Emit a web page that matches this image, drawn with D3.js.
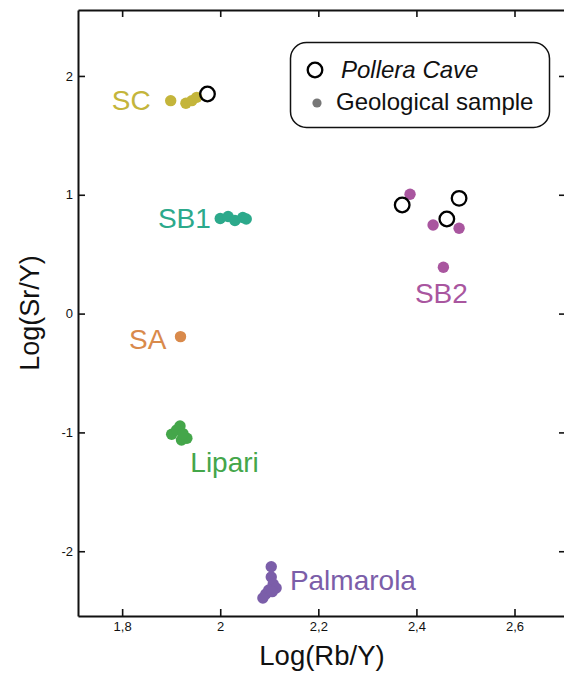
<!DOCTYPE html>
<html>
<head>
<meta charset="utf-8">
<script src="https://cdn.jsdelivr.net/npm/d3@7"></script>
<style>
  body { margin: 0; background: #fff; }
  svg { display: block; font-family: "Liberation Sans", Arial, Helvetica, sans-serif; }
</style>
</head>
<body>
<svg id="chart" width="564" height="673"></svg>
<script>
// geological samples, Log(Rb/Y) and Log(Sr/Y)
const scRb = [1.899, 1.930, 1.942, 1.952]
const scSr = [1.792, 1.770, 1.792, 1.820]
const sb1Rb = [2.000, 2.016, 2.030, 2.046, 2.053]
const sb1Sr = [0.800, 0.817, 0.784, 0.809, 0.796]
const saRb = [1.919]
const saSr = [-0.194]
const lipariRb = [1.901, 1.918, 1.932, 1.921, 1.911, 1.924]
const lipariSr = [-1.016, -0.946, -1.049, -1.064, -0.980, -1.010]
const palmarolaRb = [2.104, 2.104, 2.108, 2.114, 2.099, 2.093, 2.087, 2.106]
const palmarolaSr = [-2.130, -2.217, -2.276, -2.309, -2.326, -2.360, -2.394, -2.340]
const sb2Rb = [2.387, 2.434, 2.487, 2.455]
const sb2Sr = [1.004, 0.746, 0.718, 0.390]

// Pollera Cave artefacts
const caveRb = [1.974, 2.371, 2.487, 2.462]
const caveSr = [1.848, 0.914, 0.970, 0.796]

const groups = ["SC", "SB1", "SA", "Lipari", "Palmarola", "SB2"]
// where each source label sits, in data units
const labelRb = [1.779, 1.873, 1.814, 1.939, 2.142, 2.397]
const labelSr = [1.714, 0.720, -0.298, -1.329, -2.330, 0.087]

const xTicks = [1.8, 2, 2.2, 2.4, 2.6]
const yTicks = [-2, -1, 0, 1, 2]

const colors = ["#c4b53b", "#2ca98b", "#d98a4b", "#44a64a", "#7b5ea9", "#a9569f"]

const samples = []
;[[scRb, scSr], [sb1Rb, sb1Sr], [saRb, saSr], [lipariRb, lipariSr],
  [palmarolaRb, palmarolaSr], [sb2Rb, sb2Sr]].forEach(function (g, gi) {
  g[0].forEach(function (v, i) {
    samples.push({ group: groups[gi], rb: v, sr: g[1][i] })
  })
})
const cave = caveRb.map((v, i) => ({ rb: v, sr: caveSr[i] }))

const mLeft = 78, mRight = 566, mTop = 10, mBottom = 616

const x = d3.scaleLinear().domain([1.71, 2.705]).range([mLeft, mRight])
const y = d3.scaleLinear().domain([-2.545, 2.555]).range([mBottom, mTop])
const color = d3.scaleOrdinal().domain(groups).range(colors)
const fmt = d => String(d).replace(".", ",")

const svg = d3.select("#chart")

function styleAxis(g) {
  g.select(".domain").attr("stroke", "#111").attr("stroke-width", 2)
  g.selectAll(".tick line").attr("stroke", "#111").attr("stroke-width", 1.6)
  g.selectAll(".tick text").attr("fill", "#111").style("font-size", "13px")
}

svg.append("g")
  .attr("transform", `translate(0,${mBottom})`)
  .call(d3.axisBottom(x).tickValues(xTicks).tickFormat(fmt).tickSize(-7).tickPadding(6).tickSizeOuter(0))
  .call(styleAxis)

svg.append("g")
  .attr("transform", `translate(0,${mTop})`)
  .call(d3.axisTop(x).tickValues(xTicks).tickFormat("").tickSize(-7).tickSizeOuter(0))
  .call(styleAxis)

svg.append("g")
  .attr("transform", `translate(${mLeft},0)`)
  .call(d3.axisLeft(y).tickValues(yTicks).tickFormat(fmt).tickSize(-7).tickPadding(5).tickSizeOuter(0))
  .call(styleAxis)

svg.append("g")
  .attr("transform", `translate(${mRight},0)`)
  .call(d3.axisRight(y).tickValues(yTicks).tickFormat("").tickSize(-7).tickSizeOuter(0))
  .call(styleAxis)

// geological samples
svg.append("g")
  .selectAll("circle")
  .data(samples)
  .enter()
  .append("circle")
  .attr("cx", d => x(d.rb))
  .attr("cy", d => y(d.sr))
  .attr("r", 5.7)
  .attr("fill", d => color(d.group))

// cave artefacts
svg.append("g")
  .selectAll("circle")
  .data(cave)
  .enter()
  .append("circle")
  .attr("cx", d => x(d.rb))
  .attr("cy", d => y(d.sr))
  .attr("r", 7.3)
  .attr("fill", "none")
  .attr("stroke", "#000")
  .attr("stroke-width", 2.3)

// source labels
svg.append("g")
  .selectAll("text")
  .data(groups)
  .enter()
  .append("text")
  .attr("x", (d, i) => x(labelRb[i]))
  .attr("y", (d, i) => y(labelSr[i]))
  .attr("fill", d => color(d))
  .style("font-size", "28px")
  .text(d => d)

// axis titles
svg.append("text")
  .attr("x", (mLeft + mRight) / 2)
  .attr("y", 665)
  .attr("text-anchor", "middle")
  .attr("fill", "#111")
  .style("font-size", "27.5px")
  .text("Log(Rb/Y)")

svg.append("text")
  .attr("transform", `translate(39,${(mTop + mBottom) / 2}) rotate(-90)`)
  .attr("text-anchor", "middle")
  .attr("fill", "#111")
  .style("font-size", "27px")
  .text("Log(Sr/Y)")

// legend
const legend = svg.append("g")
legend.append("rect")
  .attr("x", 290.5).attr("y", 42.5)
  .attr("width", 259).attr("height", 85)
  .attr("rx", 16)
  .attr("fill", "#fff")
  .attr("stroke", "#111")
  .attr("stroke-width", 1.5)
legend.append("circle")
  .attr("cx", 315).attr("cy", 70).attr("r", 7.3)
  .attr("fill", "none").attr("stroke", "#000").attr("stroke-width", 2.3)
legend.append("text")
  .attr("x", 341).attr("y", 78)
  .style("font-size", "24px").style("font-style", "italic")
  .attr("fill", "#111")
  .text("Pollera Cave")
legend.append("circle")
  .attr("cx", 317).attr("cy", 103).attr("r", 4.6)
  .attr("fill", "#777")
legend.append("text")
  .attr("x", 336).attr("y", 110)
  .style("font-size", "24px")
  .attr("fill", "#111")
  .text("Geological sample")
</script>
</body>
</html>
